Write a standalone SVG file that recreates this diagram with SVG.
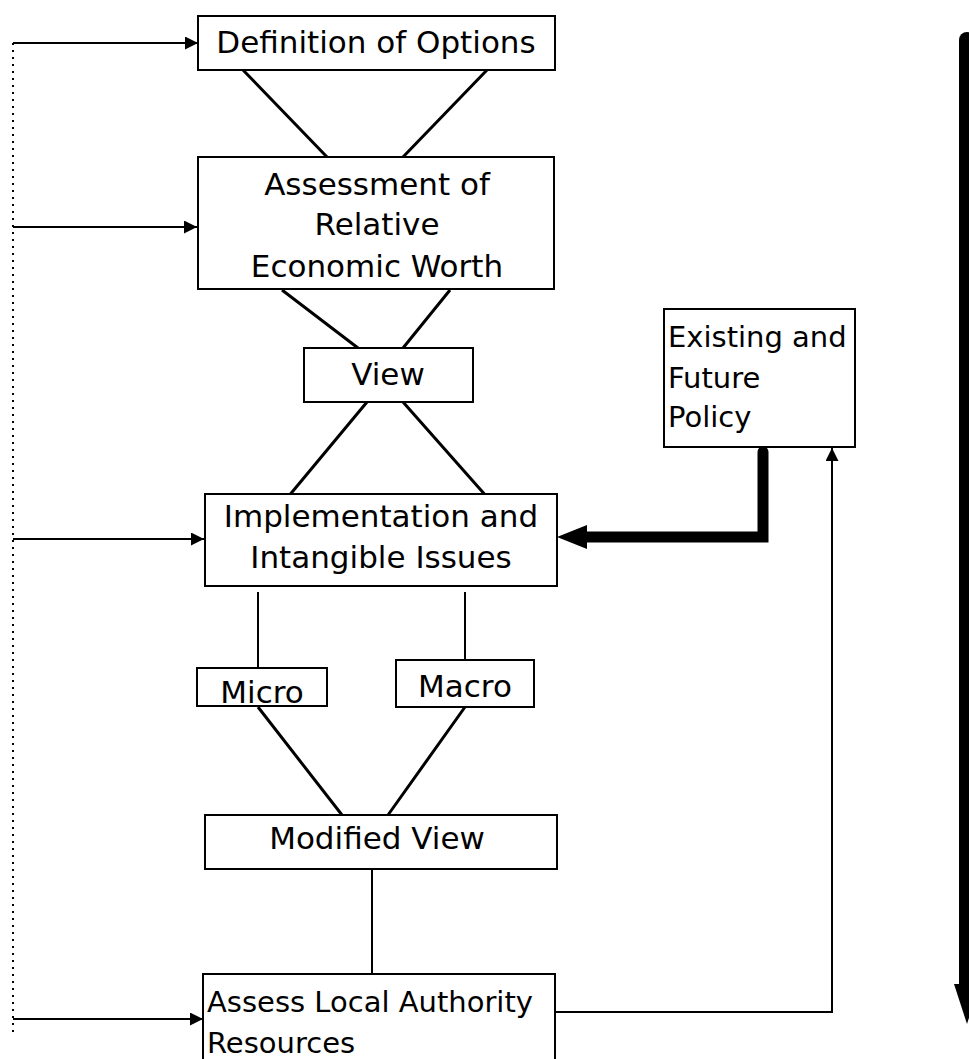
<svg xmlns="http://www.w3.org/2000/svg" width="969" height="1059" viewBox="0 0 969 1059">
<style>
.box{fill:#fff;stroke:#000;stroke-width:2}
.t{font-family:"DejaVu Sans",sans-serif;font-size:31px;fill:#000}
.s{font-size:29px}
.c{text-anchor:middle}
.ln{stroke:#000;stroke-width:3;fill:none}
.thin{stroke:#000;stroke-width:2;fill:none}
.dot{stroke:#000;stroke-width:2;fill:none;stroke-dasharray:2 5}
</style>
<defs>
<marker id="ah" markerUnits="userSpaceOnUse" markerWidth="14" markerHeight="14" refX="13" refY="6.5" orient="auto">
<path d="M0,0 L13,6.5 L0,13 z" fill="#000"/>
</marker>
</defs>
<rect width="969" height="1059" fill="#fff"/>
<g id="connectors">
<path class="dot" d="M13,43 V1033"/>
<path class="thin" d="M13,43 H198" marker-end="url(#ah)"/>
<path class="thin" d="M13,227 H197" marker-end="url(#ah)"/>
<path class="thin" d="M13,539 H204" marker-end="url(#ah)"/>
<path class="thin" d="M13,1019 H203" marker-end="url(#ah)"/>
<path class="ln" d="M243,70 L327,157 M487,70 L403,157"/>
<path class="ln" d="M282,290 L358,348 M450,290 L403,348"/>
<path class="ln" d="M367,402 L288,497 M403,402 L487,497"/>
<path class="thin" d="M258,592 V668 M465,592 V660"/>
<path class="ln" d="M258,707 L342,815 M465,707 L388,815"/>
<path class="thin" d="M372,869 V974"/>
<path class="thin" d="M555,1012 H832 V448" marker-end="url(#ah)"/>
<path d="M763,452 V537 H582" stroke="#000" stroke-width="11" fill="none" stroke-linecap="round"/>
<polygon points="557,537 587,525 587,549" fill="#000"/>
<path d="M967,40 V990" stroke="#000" stroke-width="16" fill="none" stroke-linecap="round"/>
<polygon points="954,984 980,984 967,1024" fill="#000"/>
</g>
<g id="definition">
<rect class="box" x="198" y="16" width="357" height="54"/>
<text class="t c" x="376" y="53">Definition of Options</text>
</g>
<g id="assessment">
<rect class="box" x="198" y="157" width="356" height="132"/>
<text class="t c" x="377" y="195">Assessment of</text>
<text class="t c" x="377" y="235">Relative</text>
<text class="t c" x="377" y="277">Economic Worth</text>
</g>
<g id="view">
<rect class="box" x="304" y="348" width="169" height="54"/>
<text class="t c" x="388" y="385">View</text>
</g>
<g id="policy">
<rect class="box" x="664" y="309" width="191" height="138"/>
<text class="t s" x="668" y="347">Existing and</text>
<text class="t s" x="668" y="388">Future</text>
<text class="t s" x="668" y="427">Policy</text>
</g>
<g id="implementation">
<rect class="box" x="205" y="494" width="352" height="92"/>
<text class="t c" x="381" y="527">Implementation and</text>
<text class="t c" x="381" y="568">Intangible Issues</text>
</g>
<g id="micro">
<rect class="box" x="197" y="668" width="130" height="38"/>
<text class="t c" x="262" y="703">Micro</text>
</g>
<g id="macro">
<rect class="box" x="396" y="660" width="138" height="47"/>
<text class="t c" x="465" y="697">Macro</text>
</g>
<g id="modified">
<rect class="box" x="205" y="815" width="352" height="54"/>
<text class="t c" x="377" y="849">Modified View</text>
</g>
<g id="assess-local">
<rect class="box" x="203" y="974" width="352" height="100"/>
<text class="t s" x="207" y="1012">Assess Local Authority</text>
<text class="t s" x="207" y="1053">Resources</text>
</g>
</svg>
